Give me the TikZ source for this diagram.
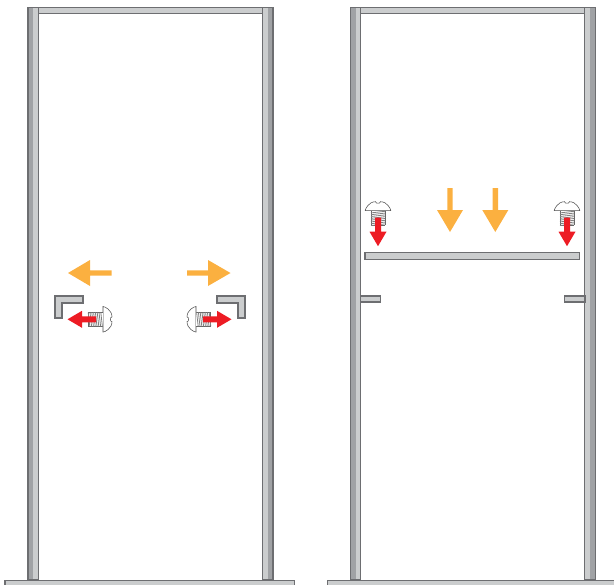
\documentclass[tikz,border=0pt]{standalone}
\definecolor{edgegrey}{HTML}{6D6E71}
\definecolor{lightgrey}{HTML}{CBCDCE}
\definecolor{midgrey}{HTML}{A0A2A5}
\definecolor{barorange}{HTML}{FBB040}
\definecolor{barred}{HTML}{ED1C24}
\tikzset{
  metal/.style={draw=edgegrey,fill=lightgrey,line width=0.9pt},
  orange arrow/.style={fill=barorange},
  red arrow/.style={fill=barred},
  pics/post/.style={code={
    \fill[lightgrey] (0,7.5) rectangle (10.5,580);
    \fill[midgrey] (#1,7.5) rectangle ({#1+5.2},580);
    \draw[edgegrey,line width=1pt] (0,7.5) rectangle (10.5,580);
  }},
  pics/screw/.style={code={
    \draw[black!70,line width=0.4pt,fill=white] (0,-12.8) .. controls (-1.5,-12.8) and (-9,-9.5) .. (-9,-2.4)
      .. controls (-7.5,-2.2) and (-7.5,-1.2) .. (-7.5,0) .. controls (-7.5,1.2) and (-7.5,2.2) .. (-9,2.4)
      .. controls (-9,9.5) and (-1.5,12.8) .. (0,12.8) -- cycle;
    \fill[white] (0,-7) rectangle (14.7,7);
    \draw[black!60,line width=0.5pt] (0,-7) -- (14.7,-7) (0,7) -- (14.7,7) (14.7,-7) -- (14.7,7);
    \foreach \t in {0.6,2.4,...,13.5}
      \draw[black!50,line width=0.6pt] (\t,-7) -- (\t+1.6,7);
    \fill[red arrow] (7,-3) -- (21,-3) -- (21,-8.5) -- (35.5,0) -- (21,8.5) -- (21,3) -- (7,3) -- cycle;
  }}
}
\begin{document}
\begin{tikzpicture}[x=0.75pt,y=-0.75pt]
\useasboundingbox (0,0) rectangle (614,585);
% frames
\draw[metal] (38,7.8) rectangle (263,13.2);
\draw[metal] (360.5,7.8) rectangle (585,13.2);
\pic at (28,0) {post=0};
\pic at (262.5,0) {post=5.2};
\pic at (350.3,0) {post=0};
\pic at (584.8,0) {post=5.2};
\draw[metal] (5,580.5) rectangle (294.3,590);
\draw[metal] (327.5,580.5) rectangle (620,590);
% left frame brackets
\draw[metal] (55,296) -- (83,296) -- (83,303) -- (62,303) -- (62,318) -- (55,318) -- cycle;
\draw[metal] (245,296) -- (217,296) -- (217,303) -- (238,303) -- (238,318) -- (245,318) -- cycle;
% right frame shelf and ledges
\draw[metal] (365,252.8) rectangle (579.5,259.5);
\draw[metal] (360.5,296) rectangle (380.5,302);
\draw[metal] (564.5,296) rectangle (585,302);
% orange arrows
\fill[orange arrow] (111.5,270.3) -- (90,270.3) -- (90,260) -- (68,273) -- (90,286) -- (90,275.7) -- (111.5,275.7) -- cycle;
\fill[orange arrow] (187,270.3) -- (208,270.3) -- (208,260) -- (230.5,273) -- (208,286) -- (208,275.7) -- (187,275.7) -- cycle;
\fill[orange arrow] (447.3,188) -- (447.3,210) -- (437,210) -- (450,232) -- (463,210) -- (452.7,210) -- (452.7,188) -- cycle;
\fill[orange arrow] (492.6,188) -- (492.6,210) -- (482.3,210) -- (495.3,232) -- (508.3,210) -- (498,210) -- (498,188) -- cycle;
% screws
\pic[rotate=180] at (103,319.3) {screw};
\pic at (196,319.3) {screw};
\pic[rotate=-90] at (378,210.7) {screw};
\pic[rotate=-90] at (567,210.7) {screw};
\end{tikzpicture}
\end{document}
